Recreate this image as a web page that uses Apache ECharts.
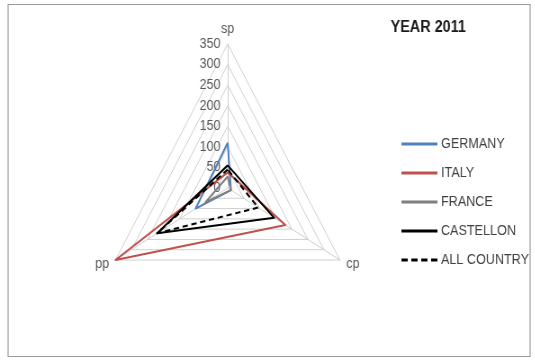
<!DOCTYPE html>
<html>
<head>
<meta charset="utf-8">
<script src="https://cdn.jsdelivr.net/npm/echarts@6/dist/echarts.min.js"></script>
<style>
  html, body { margin: 0; padding: 0; background: #fff; overflow: hidden; }
  #wrap { width: 535px; height: 361px; overflow: hidden; }
  /* the drawing is laid out on a wider canvas and narrowed to the page width */
  #chart { width: 594px; height: 361px; transform: scaleX(0.9); transform-origin: 0 0; }
</style>
</head>
<body>
<div id="wrap"><div id="chart"></div></div>
<script>
// Axes of the radar, in drawing order (counter-clockwise from the top)
const indicators = ['sp', 'pp', 'cp'];
const axisMax = 350;
const tickStep = 50;

// Values per country, ordered as sp, pp, cp
const germany    = [110, 100, 10];
const italy      = [38, 350, 180];
const france     = [28, 70, 10];
const castellon  = [55, 220, 145];
const allCountry = [45, 220, 95];

const seriesNames = ['GERMANY', 'ITALY', 'FRANCE', 'CASTELLON', 'ALL COUNTRY'];
const seriesValues = [germany, italy, france, castellon, allCountry];
const seriesColors = ['#4f81bd', '#c0504d', '#7f7f7f', '#000000', '#000000'];
const seriesDashed = [false, false, false, false, true];

const titleText = 'YEAR 2011';
const FONT = 'Liberation Sans, Arial, sans-serif';

const chart = echarts.init(document.getElementById('chart'), null, { renderer: 'canvas' });

const center = [253, 188];
const radius = 144;

const solidIcon = 'path://M0,0h40v3h-40z';
const dashIcon = 'path://M0,0h7v3h-7zM11,0h7v3h-7zM22,0h7v3h-7zM33,0h7v3h-7z';

const option = {
  animation: false,
  backgroundColor: '#ffffff',
  title: {
    text: titleText,
    left: 434, top: 20, padding: 0,
    textStyle: { fontFamily: FONT, fontSize: 16, fontWeight: 'bold', color: '#1a1a1a' }
  },
  legend: {
    orient: 'vertical',
    left: 446, top: 137, padding: 0,
    itemWidth: 40, itemHeight: 3, itemGap: 15,
    textStyle: { fontFamily: FONT, fontSize: 14, color: '#404040', padding: [0, 0, 0, -1] },
    data: seriesNames.map((n, i) => ({
      name: n,
      icon: seriesDashed[i] ? dashIcon : solidIcon,
      itemStyle: { color: seriesColors[i] }
    }))
  },
  graphic: [{
    type: 'rect',
    shape: { x: 9, y: 4.5, width: 580, height: 352 },
    style: { fill: 'none', stroke: '#9a9a9a', lineWidth: 1.2 },
    silent: true
  }],
  radar: {
    center: center,
    radius: radius,
    shape: 'polygon',
    splitNumber: axisMax / tickStep,
    indicator: indicators.map(n => ({ name: n, min: 0, max: axisMax })),
    axisName: { fontFamily: FONT, fontSize: 14, color: '#595959' },
    nameGap: 8,
    axisLine: { lineStyle: { color: '#d0d0d0', width: 1 } },
    splitLine: { lineStyle: { color: '#d0d0d0', width: 1 } },
    splitArea: { show: false },
    axisTick: { show: false },
    axisLabel: { show: false }
  },
  // polar frame sharing the radar's centre, used for the value labels on the sp axis
  polar: { center: center, radius: radius },
  angleAxis: {
    show: false, startAngle: 90, min: 0, max: 360
  },
  radiusAxis: {
    min: 0, max: axisMax, interval: tickStep,
    axisLine: { show: false }, axisTick: { show: false }, splitLine: { show: false },
    axisLabel: { fontFamily: FONT, fontSize: 14, color: '#595959', margin: 8 }
  },
  series: [{
    type: 'radar',
    symbol: 'none',
    data: seriesNames.map((n, i) => ({
      name: n,
      value: seriesValues[i],
      lineStyle: {
        color: seriesColors[i],
        width: 2,
        type: seriesDashed[i] ? [6, 4] : 'solid'
      },
      itemStyle: { color: seriesColors[i] },
      areaStyle: { opacity: 0 }
    }))
  }]
};

chart.setOption(option);
</script>
</body>
</html>
